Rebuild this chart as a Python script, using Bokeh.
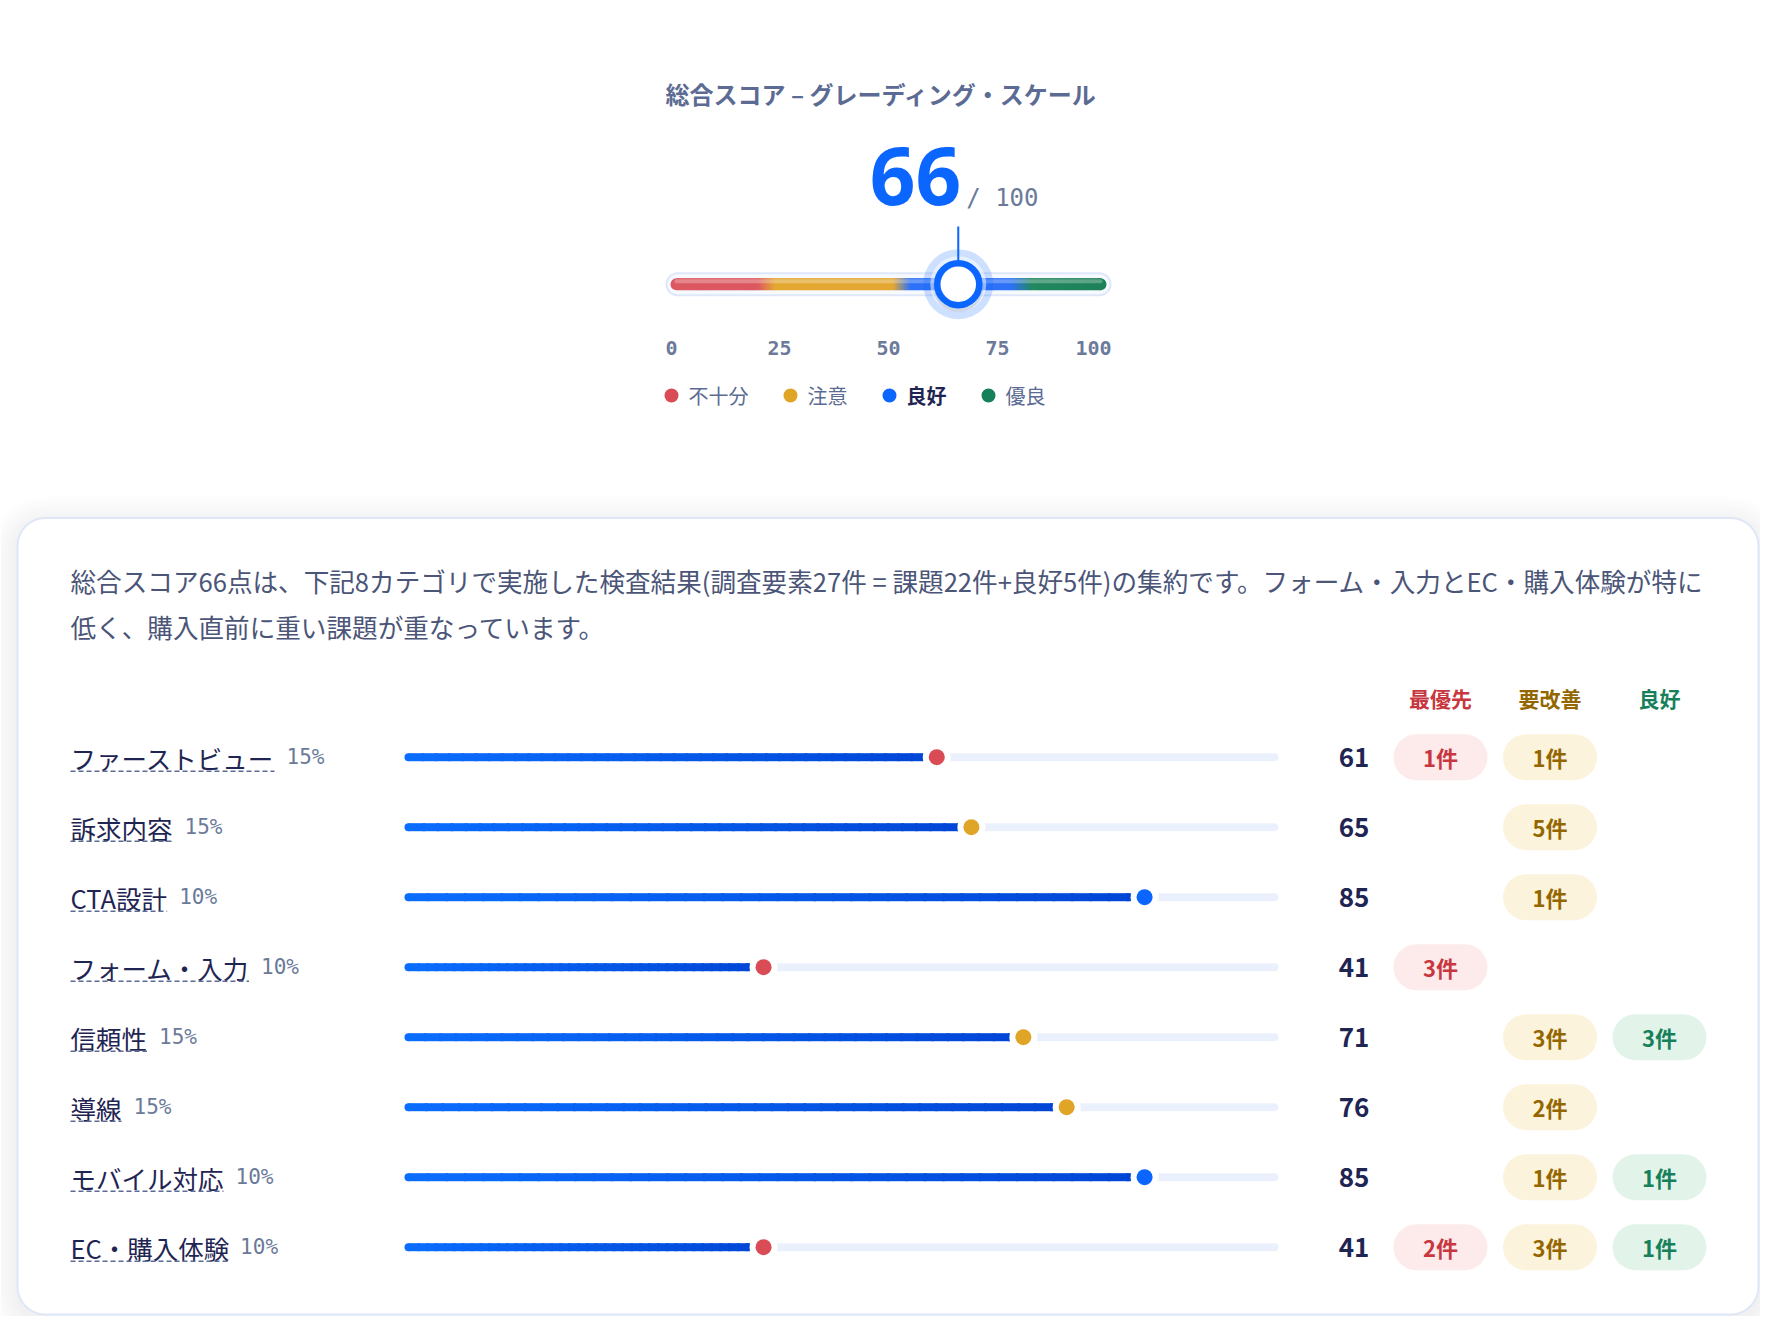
import numpy as np
from bokeh.plotting import figure
from bokeh.models import Range1d
from bokeh.embed import file_html
from bokeh.resources import INLINE
from bokeh.core.properties import value

# ---------------- data ----------------
overall_score = 66
overall_max = 100
gauge_ticks = [0, 25, 50, 75, 100]
grade_labels = ["不十分", "注意", "良好", "優良"]
current_grade = "良好"

categories = ["ファーストビュー", "訴求内容", "CTA設計", "フォーム・入力",
              "信頼性", "導線", "モバイル対応", "EC・購入体験"]
weights = [15, 15, 10, 10, 15, 15, 10, 10]
scores = [61, 65, 85, 41, 71, 76, 85, 41]
score_grade = ["不十分", "注意", "良好", "不十分", "注意", "注意", "良好", "不十分"]
issue_columns = ["最優先", "要改善", "良好"]
count_top = [1, 0, 0, 3, 0, 0, 0, 2]
count_improve = [1, 5, 1, 0, 3, 2, 1, 3]
count_good = [0, 0, 0, 0, 3, 0, 1, 1]

chart_title = "総合スコア – グレーディング・スケール"
summary_lines = [
    "総合スコア66点は、下記8カテゴリで実施した検査結果(調査要素27件 = 課題22件+良好5件)の集約です。フォーム・入力とEC・購入体験が特に",
    "低く、購入直前に重い課題が重なっています。",
]

# ---------------- style ----------------
JP = "Noto Sans CJK JP"
MONO = "DejaVu Sans Mono"
LATIN = "Noto Sans"
NAVY = "#1f2553"
SLATE = "#5c6b93"
MUTED = "#6b7a99"
BLUE = "#0a66ff"
grade_colors = {"不十分": "#d94c55", "注意": "#e0a526", "良好": "#0a66ff", "優良": "#15805a"}
col_fg = ["#c8373f", "#946600", "#17805a"]
col_bg = ["#fdeaea", "#fcf3dc", "#e2f4ea"]
gauge_stops = [(0, "#dc5861"), (20, "#dc5861"), (24, "#e4a832"), (51, "#e4a832"),
               (55, "#2d72f8"), (78, "#2d72f8"), (83, "#22885f"), (100, "#1d8059")]
bar_start_col, bar_end_col = "#0b6dff", "#0046d5"


def hex2rgb(h):
    h = h.lstrip("#")
    return np.array([int(h[i:i + 2], 16) for i in (0, 2, 4)], dtype=float)


def rgb2hex(c):
    c = np.clip(np.round(c), 0, 255).astype(int)
    return "#%02x%02x%02x" % tuple(c)


def lerp_col(a, b, t):
    return rgb2hex(hex2rgb(a) * (1 - t) + hex2rgb(b) * t)


def gauge_color(v):
    for (v0, c0), (v1, c1) in zip(gauge_stops[:-1], gauge_stops[1:]):
        if v0 <= v <= v1:
            t = 0 if v1 == v0 else (v - v0) / (v1 - v0)
            return lerp_col(c0, c1, t)
    return gauge_stops[-1][1]


def est_width(s, size):
    w = 0.0
    for ch in s:
        if ord(ch) > 0x2E80:
            w += 1.0
        elif ch.isupper():
            w += {"C": 0.62, "T": 0.55, "A": 0.62, "E": 0.56}.get(ch, 0.6)
        else:
            w += 0.55
    return w * size


def rrect(x0, y0, x1, y1, r, n=14):
    xs, ys = [], []
    corners = [(x1 - r, y0 + r, -90, 0), (x1 - r, y1 - r, 0, 90),
               (x0 + r, y1 - r, 90, 180), (x0 + r, y0 + r, 180, 270)]
    for cx, cy, a0, a1 in corners:
        for t in np.linspace(np.radians(a0), np.radians(a1), n):
            xs.append(cx + r * np.cos(t))
            ys.append(cy + r * np.sin(t))
    return xs, ys


# ---------------- figure (page pixel frame) ----------------
OX, OY, W, H = 0, 0, 1760, 1316
p = figure(width=W, height=H, x_range=Range1d(OX, OX + W), y_range=Range1d(OY + H, OY),
           x_axis_type=None, y_axis_type=None, output_backend="svg", toolbar_location=None,
           min_border=0, outline_line_color=None,
           background_fill_color="white", border_fill_color="white")
p.grid.visible = False

# gauge scale: value 0..100
G0, G1 = 670.0, 1106.0
gpu = (G1 - G0) / overall_max
p.extra_x_ranges["g"] = Range1d((OX - G0) / gpu, (OX + W - G0) / gpu)
# bar scale: 0..100
B0, B1 = 408.0, 1274.0
bpu = (B1 - B0) / 100
p.extra_x_ranges["b"] = Range1d((OX - B0) / bpu, (OX + W - B0) / bpu)
# rows
R0, RS = 756.7, 70.0
p.extra_y_ranges["r"] = Range1d((OY + H - R0) / RS, (OY - R0) / RS)
# badge columns
C0, CS = 1440.0, 109.5
p.extra_x_ranges["c"] = Range1d((OX - C0) / CS, (OX + W - C0) / CS)

# ---------------- top: gauge ----------------
p.text(x=[881], y=[93], text=[chart_title], text_font=value(JP), text_font_size="24px",
       text_font_style="bold", text_color=SLATE, text_align="center", text_baseline="middle")

GY = 283.7
cap_o = 12 / gpu
ext = 5 / gpu
p.segment(x0=[-ext + cap_o], x1=[overall_max + ext - cap_o], y0=[GY], y1=[GY], line_width=24,
          line_cap="round", line_color="#dfe8fa", x_range_name="g")
p.segment(x0=[-ext + cap_o], x1=[overall_max + ext - cap_o], y0=[GY], y1=[GY], line_width=20,
          line_cap="round", line_color="#f6f9fe", x_range_name="g")

rc = 6 / gpu
edges = np.linspace(rc, overall_max - rc, 221)
mids = (edges[:-1] + edges[1:]) / 2
p.segment(x0=list(edges[:-1]), x1=list(edges[1:] + 0.2), y0=[GY] * len(mids), y1=[GY] * len(mids),
          line_width=12, line_cap="butt", line_color=[gauge_color(m) for m in mids], x_range_name="g")
p.scatter(x=[rc, overall_max - rc], y=[GY, GY], size=12, marker="circle", line_color=None,
          fill_color=[gauge_color(rc), gauge_color(overall_max - rc)], x_range_name="g")
p.segment(x0=[rc], x1=[overall_max - rc], y0=[GY - 3], y1=[GY - 3], line_width=4, line_cap="round",
          line_color="white", line_alpha=0.28, x_range_name="g")

# marker
p.scatter(x=[overall_score], y=[GY], size=70, marker="circle", fill_color=BLUE, fill_alpha=0.2,
          line_color=None, x_range_name="g")
p.scatter(x=[overall_score], y=[GY], size=56, marker="circle", fill_color="white", fill_alpha=0.5,
          line_color=None, x_range_name="g")
p.scatter(x=[overall_score], y=[GY + 3], size=50, marker="circle", fill_color="#1b2a4a",
          fill_alpha=0.12, line_color=None, x_range_name="g")
p.scatter(x=[overall_score], y=[GY], size=42, marker="circle", fill_color="white",
          line_color=BLUE, line_width=6.5, x_range_name="g")
p.segment(x0=[overall_score], x1=[overall_score], y0=[226], y1=[260], line_width=2,
          line_color=BLUE, x_range_name="g")

p.text(x=[overall_score], y=[175], text=[str(overall_score)], text_font=value(LATIN),
       text_font_size="80px", text_font_style="bold", text_color=BLUE, text_align="right",
       text_baseline="alphabetic", x_offset=3, x_range_name="g")
p.text(x=[overall_score], y=[197], text=[f"/ {overall_max}"], text_font=value(MONO),
       text_font_size="24px", text_color=MUTED, text_align="left",
       text_baseline="alphabetic", x_offset=8, x_range_name="g")

# tick labels
TY = 347
tick_kw = dict(text_font=value(MONO), text_font_size="20px", text_font_style="bold",
               text_color=MUTED, text_baseline="middle", x_range_name="g")
p.text(x=gauge_ticks[:1], y=[TY], text=[str(t) for t in gauge_ticks[:1]], text_align="left",
       x_offset=-5, **tick_kw)
p.text(x=gauge_ticks[1:-1], y=[TY] * 3, text=[str(t) for t in gauge_ticks[1:-1]],
       text_align="center", **tick_kw)
p.text(x=gauge_ticks[-1:], y=[TY], text=[str(t) for t in gauge_ticks[-1:]], text_align="right",
       x_offset=5, **tick_kw)

# legend
LY = 395
dx = G0 + 1
for lab in grade_labels:
    p.scatter(x=[dx], y=[LY], size=14, marker="circle", fill_color=grade_colors[lab], line_color=None)
    bold = lab == current_grade
    p.text(x=[dx + 17], y=[LY], text=[lab], text_font=value(JP), text_font_size="20px",
           text_font_style="bold" if bold else "normal", text_color=NAVY if bold else SLATE,
           text_align="left", text_baseline="middle")
    dx = dx + 17 + len(lab) * 20 + 42

# ---------------- card ----------------
CX0, CY0, CX1, CY1, CR = 17, 517.5, 1758, 1314, 28
for j in range(1, 15):
    e = 2.0 * j
    xs, ys = rrect(CX0 - e, CY0 - e + 6, CX1 + e, CY1 + e + 6, CR + e)
    p.patch(xs, ys, fill_color="#1a2340", fill_alpha=0.0045, line_color=None)
xs, ys = rrect(CX0, CY0, CX1, CY1, CR)
p.patch(xs, ys, fill_color="white", line_color="#dde7f8", line_width=2)

p.text(x=[70, 70], y=[580, 626], text=summary_lines, text_font=value(JP), text_font_size="25.6px",
       text_color="#4b5578", text_align="left", text_baseline="middle")

# column headers
HROW = (697 - R0) / RS
p.text(x=[0, 1, 2], y=[HROW] * 3, text=issue_columns, text_font=value(JP), text_font_size="21px",
       text_font_style="bold", text_color=col_fg, text_align="center", text_baseline="middle",
       x_range_name="c", y_range_name="r")

rows = list(range(len(categories)))
LABEL_X = 70
LSIZE = 25.5
lw = [est_width(c, LSIZE) for c in categories]
p.text(x=[LABEL_X] * len(rows), y=rows, text=categories, text_font=value(JP),
       text_font_size=f"{LSIZE}px", text_color=NAVY, text_align="left", text_baseline="middle",
       y_range_name="r")
p.segment(x0=[LABEL_X] * len(rows), x1=[LABEL_X + w for w in lw], y0=[r + 14 / RS for r in rows],
          y1=[r + 14 / RS for r in rows], line_color=SLATE, line_width=1.6, line_dash="5 3",
          y_range_name="r")
p.text(x=[LABEL_X + w + 12 for w in lw], y=rows, text=[f"{w}%" for w in weights],
       text_font=value(MONO), text_font_size="21px", text_color=MUTED, text_align="left",
       text_baseline="middle", y_range_name="r")

# bars
p.segment(x0=[0] * len(rows), x1=[100] * len(rows), y0=rows, y1=rows, line_width=8,
          line_cap="round", line_color="#eaf1fd", x_range_name="b", y_range_name="r")
sx0, sx1, sy, sc = [], [], [], []
for r, s in zip(rows, scores):
    e = np.linspace(0, s, 41)
    for k in range(40):
        sx0.append(e[k])
        sx1.append(min(e[k + 1] + 0.3, s))
        sy.append(r)
        sc.append(lerp_col(bar_start_col, bar_end_col, (k + 0.5) / 40))
p.segment(x0=sx0, x1=sx1, y0=sy, y1=sy, line_width=8, line_cap="butt", line_color=sc,
          x_range_name="b", y_range_name="r")
p.scatter(x=[0] * len(rows), y=rows, size=8, marker="circle", fill_color=bar_start_col,
          line_color=None, x_range_name="b", y_range_name="r")
p.scatter(x=scores, y=rows, size=28, marker="circle", fill_color="white", line_color=None,
          x_range_name="b", y_range_name="r")
p.scatter(x=scores, y=rows, size=16, marker="circle",
          fill_color=[grade_colors[g] for g in score_grade], line_color=None,
          x_range_name="b", y_range_name="r")

# score numbers
p.text(x=[1353.5] * len(rows), y=rows, text=[str(s) for s in scores], text_font=value(JP),
       text_font_size="26px", text_font_style="bold", text_color=NAVY, text_align="center",
       text_baseline="middle", y_range_name="r")

# badges
half = 24 / CS
for ci, counts in enumerate([count_top, count_improve, count_good]):
    rr = [r for r, c in zip(rows, counts) if c > 0]
    cc = [c for c in counts if c > 0]
    p.segment(x0=[ci - half] * len(rr), x1=[ci + half] * len(rr), y0=rr, y1=rr, line_width=46,
              line_cap="round", line_color=col_bg[ci], x_range_name="c", y_range_name="r")
    p.text(x=[ci] * len(rr), y=rr, text=[f"{c}件" for c in cc], text_font=value(JP),
           text_font_size="22px", text_font_style="bold", text_color=col_fg[ci],
           text_align="center", text_baseline="middle", x_range_name="c", y_range_name="r")

open("out.html", "w").write(file_html(p, INLINE))
